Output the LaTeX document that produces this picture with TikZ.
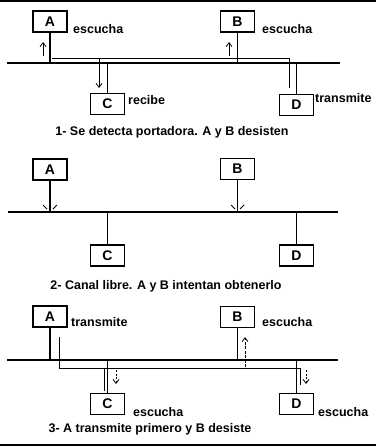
\documentclass[tikz,border=0pt]{standalone}
\usepackage{fontspec}
\setmainfont{Liberation Sans}
\usetikzlibrary{arrows.meta}
\begin{document}
\begin{tikzpicture}[x=1pt,y=-1pt,
  station/.style={draw,line width=1.3pt,minimum width=34pt,minimum height=21pt,inner sep=0pt,font=\bfseries\fontsize{14}{14}\selectfont},
  lbl/.style={font=\bfseries\fontsize{12.5}{14}\selectfont,inner sep=0pt,anchor=west},
  captiontext/.style={font=\bfseries\fontsize{12.5}{14}\selectfont,inner sep=0pt},
  bus/.style={line width=1.6pt},
  stem/.style={line width=1.3pt},
  sig/.style={line width=0.8pt},
  sigarrow/.style={line width=0.8pt,-{Straight Barb[length=4pt,width=6pt]}},
  tick/.style={line width=0.8pt},
  frame/.style={line width=1.2pt}]
\useasboundingbox (0,0) rectangle (376,447);
% frame lines
\coordinate (ftl) at (0,1); \coordinate (ftr) at (376,1);
\coordinate (fbl) at (0,445); \coordinate (fbr) at (376,445);
\draw[frame] (ftl) -- (ftr);
\draw[frame] (fbl) -- (fbr);

% ---------- Panel 1 ----------
\node[station] (a1) at (50,21.5) {A};
\node[station] (b1) at (237.5,21.5) {B};
\node[station] (c1) at (107.5,104) {C};
\node[station] (d1) at (296.5,105) {D};
\coordinate (l1) at (7,63); \coordinate (r1) at (340,63);
\draw[bus] (l1) -- (r1);
\draw[stem] (a1.south) -- (a1.south |- l1);
\draw[stem] (b1.south) -- (b1.south |- l1);
\draw[stem] (c1.north) -- (c1.north |- l1);
\draw[stem] (d1.north) -- (d1.north |- l1);
\node[lbl] (la1) at (73,29) {escucha};
\node[lbl] (lb1) at (262,29) {escucha};
\node[lbl] (lc1) at (128,100) {recibe};
\node[lbl] (ld1) at (315,98) {transmite};
\node[captiontext] (cap1) at (172,132) {1- Se detecta portadora. A y B desisten};
% signal
\coordinate (s1a) at (52,58); \coordinate (s1k) at (289,58); \coordinate (s1d) at (289,88);
\draw[sig] (s1a) -- (s1k) -- (s1d);
\coordinate (s1c) at (99,58); \coordinate (s1ce) at (99,88);
\draw[sigarrow] (s1c) -- (s1ce);
\coordinate (u1a) at (43,56); \coordinate (u1ae) at (43,42);
\draw[sigarrow] (u1a) -- (u1ae);
\coordinate (u1b) at (229,56); \coordinate (u1be) at (229,42);
\draw[sigarrow] (u1b) -- (u1be);

% ---------- Panel 2 ----------
\node[station] (a2) at (50,169.5) {A};
\node[station] (b2) at (237.5,169) {B};
\node[station] (c2) at (107.5,255.5) {C};
\node[station] (d2) at (296.5,255.5) {D};
\coordinate (l2) at (8,212); \coordinate (r2) at (338,212);
\draw[bus] (l2) -- (r2);
\draw[stem] (a2.south) -- (a2.south |- l2);
\draw[stem] (b2.south) -- (b2.south |- l2);
\draw[stem] (c2.north) -- (c2.north |- l2);
\draw[stem] (d2.north) -- (d2.north |- l2);
\coordinate (t1) at (43,205); \coordinate (t1e) at (47,209);
\coordinate (t2) at (57,205); \coordinate (t2e) at (53,209);
\coordinate (t3) at (231,205); \coordinate (t3e) at (235,209);
\coordinate (t4) at (244,205); \coordinate (t4e) at (240,209);
\draw[tick] (t1) -- (t1e); \draw[tick] (t2) -- (t2e);
\draw[tick] (t3) -- (t3e); \draw[tick] (t4) -- (t4e);
\node[captiontext] (cap2) at (166,286) {2- Canal libre. A y B intentan obtenerlo};

% ---------- Panel 3 ----------
\node[station] (a3) at (50,316.5) {A};
\node[station] (b3) at (237.5,317) {B};
\node[station] (c3) at (107.5,404) {C};
\node[station] (d3) at (296.5,404) {D};
\coordinate (l3) at (7,360); \coordinate (r3) at (338,360);
\draw[bus] (l3) -- (r3);
\draw[stem] (a3.south) -- (a3.south |- l3);
\draw[stem] (b3.south) -- (b3.south |- l3);
\draw[stem] (c3.north) -- (c3.north |- l3);
\draw[stem] (d3.north) -- (d3.north |- l3);
\node[lbl] (la3) at (71,322) {transmite};
\node[lbl] (lb3) at (262,322) {escucha};
\node[lbl] (lc3) at (133,412) {escucha};
\node[lbl] (ld3) at (318,412) {escucha};
\node[captiontext] (cap3) at (150,429) {3- A transmite primero y B desiste};
% signal
\coordinate (s3a) at (59,337); \coordinate (s3k) at (59,368);
\coordinate (s3r) at (300,368); \coordinate (s3d) at (300,385);
\draw[sig] (s3a) -- (s3k) -- (s3r) -- (s3d);
\coordinate (s3c) at (104,368); \coordinate (s3ce) at (104,391);
\draw[sig] (s3c) -- (s3ce);
\coordinate (d3c) at (116,370); \coordinate (d3ce) at (116,384);
\draw[sigarrow,dash pattern=on 2pt off 1.5pt] (d3c) -- (d3ce);
\coordinate (d3d) at (306,370); \coordinate (d3de) at (306,384);
\draw[sigarrow,dash pattern=on 2pt off 1.5pt] (d3d) -- (d3de);
\coordinate (u3b) at (245,367); \coordinate (u3be) at (245,337);
\draw[sigarrow,dash pattern=on 3pt off 1.5pt] (u3b) -- (u3be);
\end{tikzpicture}
\end{document}
